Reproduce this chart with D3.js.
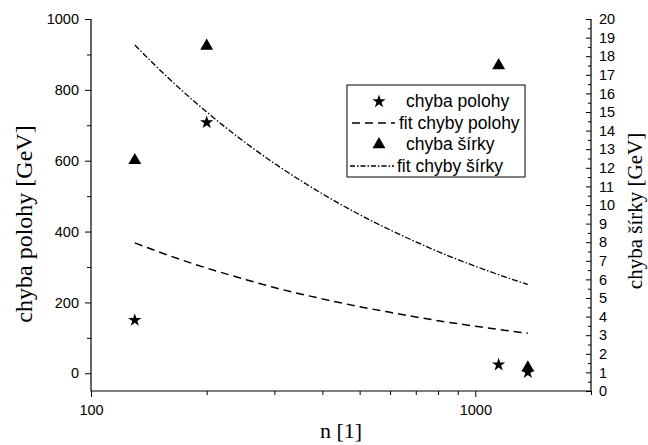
<!DOCTYPE html>
<html>
<head>
<meta charset="utf-8">
<script src="https://cdn.jsdelivr.net/npm/d3@7"></script>
<style>
  html, body { margin: 0; padding: 0; background: #fff; }
  svg { display: block; }
</style>
</head>
<body>
<svg id="chart" width="648" height="445"></svg>
<script>
// Measured points: number of samples n against position error and width error
const nValues = [130, 200, 1150, 1370];
const polohaErr = [150, 708, 24, 3];        // chyba polohy [GeV], left axis
const sirkaErr = [12.4, 18.55, 17.5, 1.25]; // chyba šírky [GeV], right axis

// Fitted curves, sampled along n
const fitN = [130, 160, 200, 250, 300, 400, 500, 600, 700, 850, 1000, 1200, 1370];
const fitPoloha = [368, 332, 297, 266, 242, 210, 188, 172, 159, 144, 133, 121, 113];
const fitSirka = [18.6, 16.77, 15.0, 13.41, 12.24, 10.6, 9.48, 8.66, 8.02, 7.27, 6.71, 6.12, 5.73];

const xTickValues = [100, 1000];
const xMinorTicks = [200, 300, 400, 500, 600, 700, 800, 900, 2000];
const leftTicks = [0, 200, 400, 600, 800, 1000];
const leftMinor = [100, 300, 500, 700, 900];
const rightTicks = d3.range(0, 21);
const rightMinor = d3.range(0.5, 20, 1);

const legendItems = ["chyba polohy", "fit chyby polohy", "chyba šírky", "fit chyby šírky"];

const svg = d3.select("#chart");
const plot = { left: 91, right: 591, top: 19, bottom: 391 };

const x = d3.scaleLog().domain([100, 2000]).range([plot.left, plot.right]);
const yL = d3.scaleLinear().domain([-50, 1000]).range([plot.bottom, plot.top]);
const yR = d3.scaleLinear().domain([0, 20]).range([plot.bottom, plot.top]);

const sans = "'Liberation Sans', Arial, sans-serif";
const serif = "'Liberation Serif', 'Times New Roman', serif";

// Axes
svg.append("g").attr("transform", `translate(0,${plot.bottom})`)
  .call(d3.axisBottom(x).tickValues(xTickValues).tickFormat(d3.format("d")).tickSize(6).tickPadding(8));
svg.append("g").attr("transform", `translate(0,${plot.bottom})`)
  .call(d3.axisBottom(x).tickValues(xMinorTicks).tickFormat("").tickSize(4));

svg.append("g").attr("transform", `translate(${plot.left},0)`)
  .call(d3.axisLeft(yL).tickValues(leftTicks).tickFormat(d3.format("d")).tickSize(6).tickPadding(6));
svg.append("g").attr("transform", `translate(${plot.left},0)`)
  .call(d3.axisLeft(yL).tickValues(leftMinor).tickFormat("").tickSize(4));

const gr = svg.append("g").attr("transform", `translate(${plot.right},0)`)
  .call(d3.axisRight(yR).tickValues(rightTicks).tickSize(-5));
svg.append("g").attr("transform", `translate(${plot.right},0)`)
  .call(d3.axisRight(yR).tickValues(rightMinor).tickFormat("").tickSize(-3));

svg.selectAll(".domain").remove();
svg.selectAll(".tick line").attr("stroke", "#000").attr("stroke-width", 1);
svg.selectAll(".tick text").attr("font-family", sans).attr("font-size", 14.5).attr("fill", "#000");
gr.selectAll(".tick text").attr("x", 8);

// Frame: left, bottom and right axis lines
svg.append("path")
  .attr("d", `M${plot.left},${plot.top}V${plot.bottom}H${plot.right}V${plot.top}`)
  .attr("fill", "none").attr("stroke", "#000").attr("stroke-width", 1.2);

// Fit curves
const lineL = d3.line().x((d, i) => x(fitN[i])).y(d => yL(d)).curve(d3.curveMonotoneX);
const lineR = d3.line().x((d, i) => x(fitN[i])).y(d => yR(d)).curve(d3.curveMonotoneX);

svg.append("path").attr("d", lineL(fitPoloha))
  .attr("fill", "none").attr("stroke", "#000").attr("stroke-width", 1.5)
  .attr("stroke-dasharray", "8,5");
svg.append("path").attr("d", lineR(fitSirka))
  .attr("fill", "none").attr("stroke", "#000").attr("stroke-width", 1.3)
  .attr("stroke-dasharray", "6,2,1.5,2");

// Markers
const star = d3.symbol().type(d3.symbolStar).size(55);
const tri = d3.symbol().type(d3.symbolTriangle).size(72);

svg.append("g").selectAll("path").data(nValues).join("path")
  .attr("d", tri)
  .attr("transform", (d, i) => `translate(${x(d)},${yR(sirkaErr[i])})`)
  .attr("fill", "#000");
svg.append("g").selectAll("path").data(nValues).join("path")
  .attr("d", star)
  .attr("transform", (d, i) => `translate(${x(d)},${yL(polohaErr[i])})`)
  .attr("fill", "#000");

// Legend
const lg = svg.append("g");
lg.append("rect").attr("x", 347).attr("y", 85).attr("width", 178).attr("height", 92)
  .attr("fill", "#fff").attr("stroke", "#000").attr("stroke-width", 1);
const rowY = [101.5, 123, 144.5, 166];
const textX = [406, 399, 406, 397];
lg.selectAll("text").data(legendItems).join("text")
  .attr("x", (d, i) => textX[i]).attr("y", (d, i) => rowY[i] + 5.5)
  .attr("font-family", sans).attr("font-size", 17.5).attr("fill", "#000")
  .text(d => d);
lg.append("path").attr("d", star).attr("transform", `translate(379,${rowY[0]})`).attr("fill", "#000");
lg.append("path").attr("d", tri).attr("transform", `translate(379,${rowY[2]})`).attr("fill", "#000");
lg.append("line").attr("x1", 352).attr("x2", 395).attr("y1", rowY[1]).attr("y2", rowY[1])
  .attr("stroke", "#000").attr("stroke-width", 1.5).attr("stroke-dasharray", "8,5");
lg.append("line").attr("x1", 350).attr("x2", 394).attr("y1", rowY[3]).attr("y2", rowY[3])
  .attr("stroke", "#000").attr("stroke-width", 1.3).attr("stroke-dasharray", "5,2,1.5,2");

// Axis titles
svg.append("text").attr("x", 341).attr("y", 438).attr("text-anchor", "middle")
  .attr("font-family", serif).attr("font-size", 22).text("n [1]");
svg.append("text").attr("transform", "translate(32,224) rotate(-90)").attr("text-anchor", "middle")
  .attr("font-family", serif).attr("font-size", 24).text("chyba polohy [GeV]");
svg.append("text").attr("transform", "translate(642,211) rotate(-90)").attr("text-anchor", "middle")
  .attr("font-family", serif).attr("font-size", 21).text("chyba šírky [GeV]");
</script>
</body>
</html>
